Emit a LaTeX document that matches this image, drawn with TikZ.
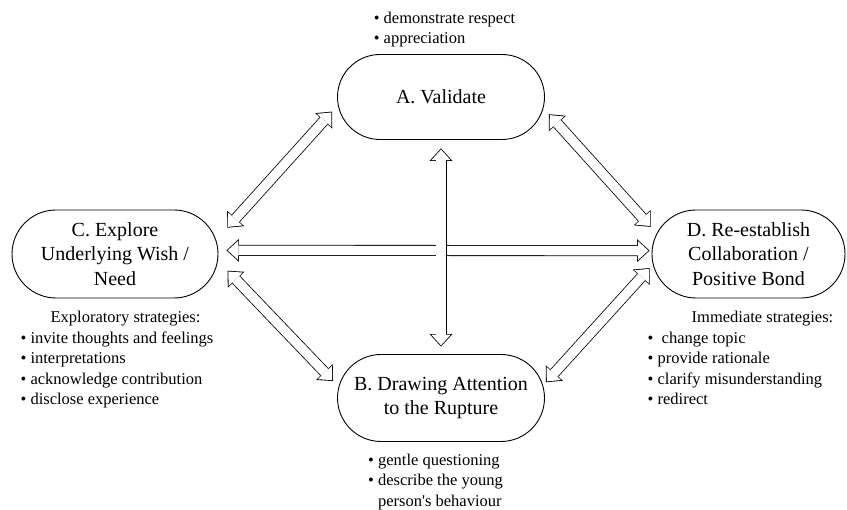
\documentclass[tikz,border=0pt]{standalone}
\usepackage{fontspec}
\setmainfont{Liberation Serif}
\usetikzlibrary{arrows.meta, positioning}
\newcommand{\bul}{\textbullet\ }
\newcommand{\listhead}[2]{\multicolumn{1}{@{\hspace{#1}}l@{}}{#2}}

\begin{document}
\begin{tikzpicture}[
        x=1pt, y=1pt,
        node distance=8pt,
        stage/.style={rectangle, rounded corners=43.5pt, draw, line width=0.9pt,
                      minimum width=207pt, minimum height=87pt,
                      align=center, font=\fontsize{20}{24.5}\selectfont},
        note/.style={inner sep=0pt, font=\fontsize{16.5}{20.5}\selectfont},
        Hout/.tip={Triangle[width=23pt, length=12.5pt, line width=0pt]},
        Hin/.tip={Triangle[width=19.4pt, length=10.6pt, line width=0pt]},
        link/.style 2 args={line width=11pt, arrows={Hout-Hout},
                            shorten <=#1, shorten >=#2,
                            postaction={draw=white, line width=9.4pt, arrows={Hin-Hin},
                                        shorten <=#1+1.2pt, shorten >=#2+1.2pt}},
    ]
        \useasboundingbox (0,0) rectangle (847,510);

        % the four moves
        \node[stage, minimum height=85pt, rounded corners=42.5pt] (A) at (441,413) {A. Validate};
        \node[stage] (B) at (441,112) {B. Drawing Attention\\to the Rupture};
        \node[stage, minimum width=206pt, minimum height=88pt, rounded corners=44pt] (C) at (115,256) {C. Explore\\Underlying Wish /\\Need};
        \node[stage, minimum width=193pt, minimum height=88pt, rounded corners=44pt] (D) at (748.5,256) {D. Re-establish\\Collaboration /\\Positive Bond};

        % strategies
        \node[note, above=4pt of A, xshift=3.5pt] (Anote) {\begin{tabular}{@{}l@{}}
            \bul demonstrate respect\\
            \bul appreciation
        \end{tabular}};
        \node[note, below=9pt of B, xshift=-5.5pt] (Bnote) {\begin{tabular}{@{}l@{}}
            \bul gentle questioning\\
            \bul describe the young\\
            \phantom{\bul}person\textquotesingle s behaviour
        \end{tabular}};
        \node[note, below=9.6pt of C, xshift=2pt] (Cnote) {\begin{tabular}{@{}l@{}}
            \listhead{30pt}{Exploratory strategies:}\\
            \bul invite thoughts and feelings\\
            \bul interpretations\\
            \bul acknowledge contribution\\
            \bul disclose experience
        \end{tabular}};
        \node[note, below=9.6pt of D, xshift=-8pt] (Dnote) {\begin{tabular}{@{}l@{}}
            \listhead{44pt}{Immediate strategies:}\\
            \bul\ change topic\\
            \bul provide rationale\\
            \bul clarify misunderstanding\\
            \bul redirect
        \end{tabular}};

        % two-way links
        \draw[link={7.4pt}{13.3pt}] (A.185.8) -- (C.9.5);
        \draw[link={6pt}{1.5pt}] (A.353.7) -- (D.165);
        \draw[link={8pt}{2pt}] (C.2) -- (D.178);
        \draw[link={8.5pt}{7.5pt}] (A.south) -- (B.north);
        \draw[link={13.1pt}{5.8pt}] (C.356.9) -- (B.173);
        \draw[link={2.9pt}{1.5pt}] (D.187.6) -- (B.8.7);
    \end{tikzpicture}
\end{document}
